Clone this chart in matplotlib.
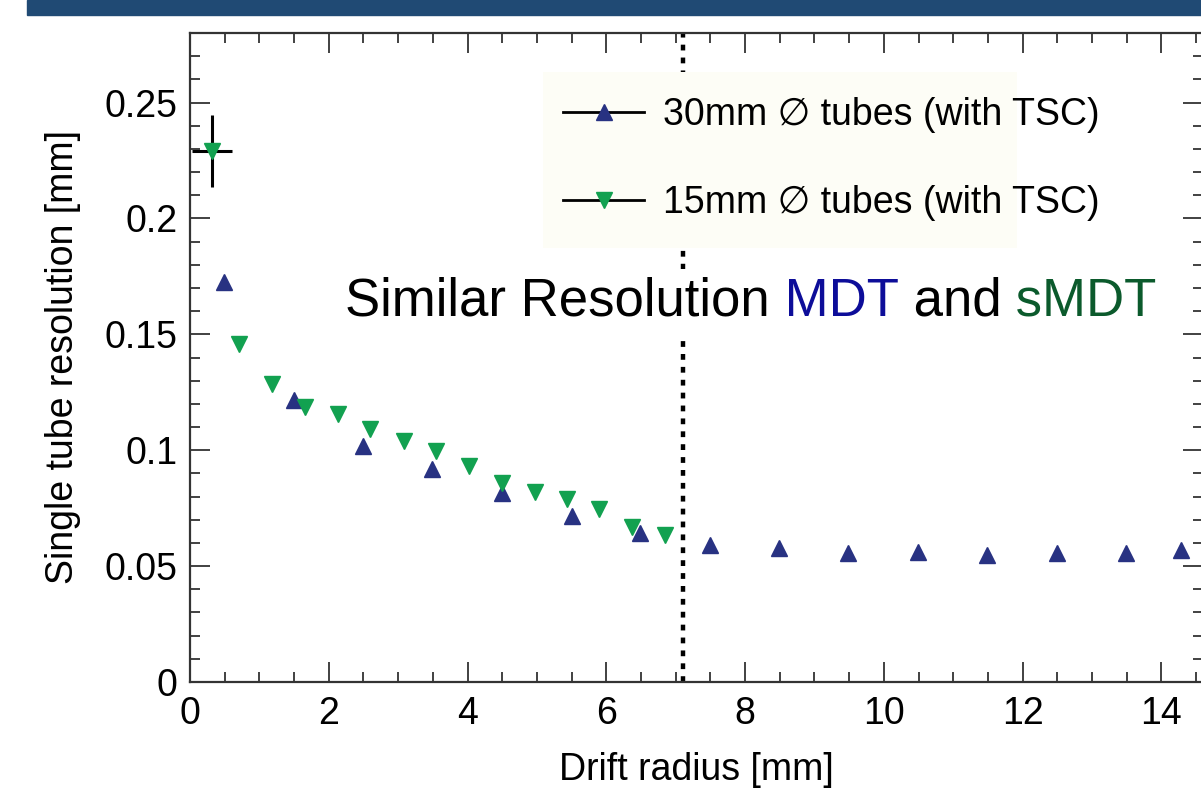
import numpy as np
import matplotlib
matplotlib.use("Agg")
import matplotlib.pyplot as plt
from matplotlib.lines import Line2D
from matplotlib.patches import Rectangle
from matplotlib.ticker import MultipleLocator

plt.rcParams['font.family'] = ['Liberation Sans', 'DejaVu Sans']

# 30 mm diameter tubes (MDT)
r_30 = [0.49, 1.50, 2.50, 3.49, 4.50, 5.50, 6.49, 7.49, 8.49, 9.49, 10.49, 11.48, 12.49, 13.49, 14.28]
res_30 = [0.1724, 0.1216, 0.1017, 0.092, 0.0815, 0.0716, 0.0643, 0.0592, 0.0578, 0.0556,
          0.0559, 0.0548, 0.0558, 0.0558, 0.0569]

# 15 mm diameter tubes (sMDT)
r_15 = [0.32, 0.71, 1.18, 1.66, 2.13, 2.60, 3.08, 3.54, 4.02, 4.50, 4.97, 5.43, 5.89, 6.37, 6.84]
res_15 = [0.2291, 0.146, 0.1284, 0.1185, 0.1155, 0.109, 0.104, 0.0996, 0.093, 0.086,
          0.082, 0.079, 0.0746, 0.0668, 0.0634]

# error bar on the first sMDT point
err_r = 0.29
err_res = 0.0155

tube_edge = 7.1
labels = ['30mm \u2205 tubes (with TSC)', '15mm \u2205 tubes (with TSC)']

blue = '#283282'
green = '#12a150'
FS = 27

fig = plt.figure(figsize=(12.01, 7.88), dpi=100)
W, H = 1201, 788
ax = fig.add_axes([190 / W, 1 - 682 / H, (1203 - 190) / W, 649 / H])

# banner on top
fig.patches.append(Rectangle((27 / W, 1 - 15 / H), 1, 15 / H, transform=fig.transFigure,
                             color='#204a74', zorder=0))

# legend box (narrower than its text, as in the original)
fig.patches.append(Rectangle((543 / W, 1 - 248 / H), (1017 - 543) / W, (248 - 72) / H,
                             transform=fig.transFigure, facecolor='#fdfdf6', edgecolor='none',
                             zorder=4))

ax.axvline(tube_edge, color='black', lw=3.2, linestyle=(0, (1.3, 1.6)), zorder=1)

ax.errorbar(r_15[0], res_15[0], xerr=err_r, yerr=err_res, fmt='none', ecolor='black',
            elinewidth=2.2, capsize=0, zorder=2)
ax.plot(r_30, res_30, linestyle='none', marker='^', ms=11.5, color=blue, zorder=3)
ax.plot(r_15, res_15, linestyle='none', marker='v', ms=11.5, color=green, zorder=3)

ax.set_xlim(0, 14.6)
ax.set_ylim(0, 0.28)
ax.xaxis.set_major_locator(MultipleLocator(2))
ax.xaxis.set_minor_locator(MultipleLocator(0.5))
ax.yaxis.set_major_locator(MultipleLocator(0.05))
ax.yaxis.set_minor_locator(MultipleLocator(0.01))
ax.yaxis.set_major_formatter(matplotlib.ticker.FuncFormatter(lambda v, p: ('%g' % round(v, 3))))

for s in ax.spines.values():
    s.set_linewidth(1.6)
    s.set_color('#333333')
ax.tick_params(which='both', direction='in', top=True, right=True, width=1.3, color='#333333',
               labelsize=FS)
ax.tick_params(which='major', length=14.5)
ax.tick_params(which='minor', length=7.2)
ax.tick_params(axis='x', which='major', pad=10)
ax.tick_params(axis='y', which='major', pad=9)

ax.set_xlabel('Drift radius [mm]', fontsize=FS)
ax.set_ylabel('Single tube resolution [mm]', fontsize=FS)
ax.xaxis.set_label_coords(0.5, -0.108)
ax.yaxis.set_label_coords(-0.108, 0.5)

handles = [
    Line2D([], [], color='black', lw=2, marker='^', ms=11.5, markerfacecolor=blue, markeredgecolor=blue),
    Line2D([], [], color='black', lw=2, marker='v', ms=11.5, markerfacecolor=green, markeredgecolor=green),
]
leg = fig.legend(handles, labels, loc='center left', bbox_to_anchor=(563 / W, 1 - 159 / H),
                 bbox_transform=fig.transFigure, borderaxespad=0, fontsize=FS, frameon=False,
                 handlelength=2.16, handletextpad=0.5, labelspacing=1.4, borderpad=0)
leg.set_zorder(5)

# headline text in three colours, white box hides the dotted line
t1 = fig.text(345 / W, 1 - 316 / H, 'Similar Resolution', fontsize=38, color='black',
              va='baseline', zorder=6,
              bbox=dict(facecolor='white', edgecolor='none', pad=6))
t2 = ax.annotate(' MDT', xy=(1, 0), xycoords=t1, va='bottom', fontsize=38, color='#0d0d99', zorder=6)
t3 = ax.annotate(' and', xy=(1, 0), xycoords=t2, va='bottom', fontsize=38, color='black', zorder=6)
t4 = ax.annotate(' sMDT', xy=(1, 0), xycoords=t3, va='bottom', fontsize=38, color='#0b5a2c', zorder=6)

fig.savefig('out.png', dpi=100)
